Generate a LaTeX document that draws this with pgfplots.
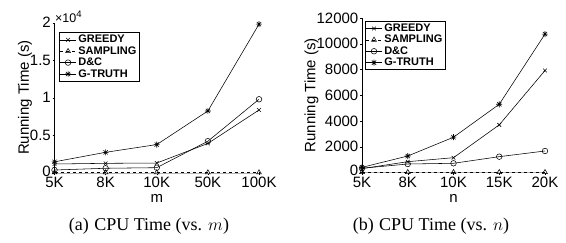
\documentclass[border=0pt]{standalone}
\usepackage{fontspec}
\setmainfont{Liberation Sans}
\newfontfamily\capfont{Liberation Serif}
\usepackage{pgfplots}
\pgfplotsset{compat=1.18}
\pgfdeclareplotmark{mstar}{%
  \pgfpathmoveto{\pgfqpoint{-\pgfplotmarksize}{0pt}}\pgfpathlineto{\pgfqpoint{\pgfplotmarksize}{0pt}}%
  \pgfpathmoveto{\pgfqpoint{0pt}{-\pgfplotmarksize}}\pgfpathlineto{\pgfqpoint{0pt}{\pgfplotmarksize}}%
  \pgfpathmoveto{\pgfqpoint{-0.707\pgfplotmarksize}{-0.707\pgfplotmarksize}}\pgfpathlineto{\pgfqpoint{0.707\pgfplotmarksize}{0.707\pgfplotmarksize}}%
  \pgfpathmoveto{\pgfqpoint{-0.707\pgfplotmarksize}{0.707\pgfplotmarksize}}\pgfpathlineto{\pgfqpoint{0.707\pgfplotmarksize}{-0.707\pgfplotmarksize}}%
  \pgfusepathqstroke}
\newcommand\tf{\fontsize{15}{17}\selectfont}
\newcommand\zr{\raisebox{3.5pt}{0}}
\pgfplotsset{
  mystyle/.style={
    scale only axis,
    axis x line*=bottom, axis y line*=left,
    x axis line style={draw=gray!60},
    xmin=0, xmax=4, ymin=0,
    xtick={0,1,2,3,4},
    scaled ticks=false,
    tick align=outside, major tick length=2pt,
    tick style={black, line width=0.4pt},
    clip=false,
    /pgf/number format/assume math mode=true,
    /pgf/number format/set thousands separator={},
    ticklabel style={font=\tf},
    xticklabel style={yshift=-2pt, inner sep=0.5pt},
    yticklabel style={inner sep=1.5pt},
    legend style={draw=black, line width=0.6pt, font=\bfseries\fontsize{11}{11}\selectfont,
      inner sep=0.5pt, row sep=-1.8pt, cells={anchor=west}},
    legend cell align=left,
    legend image code/.code={\draw[mark repeat=2,mark phase=2,#1] plot coordinates {(0pt,0pt) (8pt,0pt) (16pt,0pt)};},
    every axis plot/.append style={black, line width=0.55pt},
  },
  pg/.style={mark=x, mark size=2.6pt},
  ps/.style={dashed, mark=triangle, mark size=2.8pt, mark options={solid}},
  pd/.style={mark=o, mark size=2.8pt},
  pt/.style={mark=mstar, mark size=3pt},
}
\begin{document}
\begin{tikzpicture}
\useasboundingbox (0,0) rectangle (566pt,242pt);
% (a)
\begin{axis}[mystyle, at={(54.5pt,69.3pt)}, anchor=south west,
  width=204.5pt, height=150pt, ymax=20000,
  xticklabels={5K,8K,10K,50K,100K},
  ytick={0,5000,10000,15000,20000}, yticklabels={\zr,0.5,1,1.5,2},
  xlabel={\tf m}, ylabel={\tf Running Time (s)},
  xlabel style={yshift=-2.5pt}, ylabel style={yshift=-7pt},
  legend style={at={(0.022,0.935)}, anchor=north west},
]
\addplot[pg] coordinates {(0,1160) (1,1250) (2,1290) (3,3900) (4,8360)};
\addplot[ps] coordinates {(0,20) (1,20) (2,20) (3,20) (4,20)};
\addplot[pd] coordinates {(0,360) (1,590) (2,670) (3,4200) (4,9790)};
\addplot[pt] coordinates {(0,1450) (1,2720) (2,3750) (3,8230) (4,19800)};
\legend{GREEDY,SAMPLING,D\&C,G-TRUTH}
\node[anchor=base west, inner sep=0pt, xshift=0.5pt] at (rel axis cs:0,1) {\fontsize{12.5}{14}\selectfont ×10\raisebox{0.45em}{\fontsize{9.5}{10}\selectfont 4}};
\end{axis}
% (b)
\begin{axis}[mystyle, at={(362pt,69.5pt)}, anchor=south west,
  width=183pt, height=154.5pt, ymax=12000,
  xticklabels={5K,8K,10K,15K,20K},
  ytick={0,2000,4000,6000,8000,10000,12000},
  yticklabels={\zr,2000,4000,6000,8000,10000,12000},
  xlabel={\tf n}, ylabel={\tf Running Time (s)},
  xlabel style={yshift=-2.5pt}, ylabel style={yshift=-7pt},
  legend style={at={(0.016,0.98)}, anchor=north west},
]
\addplot[pg] coordinates {(0,300) (1,840) (2,1150) (3,3700) (4,7920)};
\addplot[ps] coordinates {(0,20) (1,20) (2,20) (3,20) (4,20)};
\addplot[pd] coordinates {(0,330) (1,660) (2,715) (3,1230) (4,1670)};
\addplot[pt] coordinates {(0,400) (1,1280) (2,2740) (3,5300) (4,10750)};
\legend{GREEDY,SAMPLING,D\&C,G-TRUTH}
\end{axis}
\node[anchor=center] at (149pt,15.5pt) {\capfont\fontsize{18}{20}\selectfont (a)\hspace{0.3em}CPU Time (vs. $m$)};
\node[anchor=center] at (431pt,15.5pt) {\capfont\fontsize{18}{20}\selectfont (b)\hspace{0.3em}CPU Time (vs. $n$)};
\end{tikzpicture}
\end{document}
